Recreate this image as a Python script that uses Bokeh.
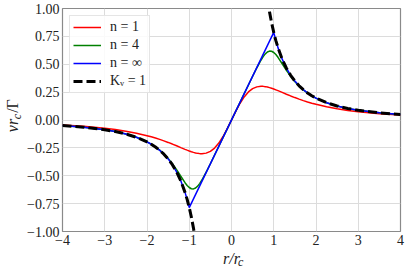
import math
from bokeh.plotting import figure
from bokeh.layouts import row, column
from bokeh.models import Range1d, FixedTicker, Legend, LegendItem
from bokeh.core.properties import value
from bokeh.embed import file_html
from bokeh.resources import INLINE

nan = float("nan")

# r / r_c sample positions for the n=1 and n=4 curves
r_vals = [-4.0, -3.5, -3.0, -2.75, -2.5, -2.25, -2.0, -1.9, -1.8, -1.7, -1.6, -1.5, -1.4,
          -1.3, -1.2, -1.1, -1.05, -1.0, -0.95, -0.9, -0.85, -0.8, -0.75, -0.7, -0.6, -0.5,
          -0.4, -0.3, -0.2, -0.1, 0.0, 0.1, 0.2, 0.3, 0.4, 0.5, 0.6, 0.7, 0.75, 0.8, 0.85,
          0.9, 0.95, 1.0, 1.05, 1.1, 1.2, 1.3, 1.4, 1.5, 1.6, 1.7, 1.8, 1.9, 2.0, 2.25, 2.5,
          2.75, 3.0, 3.5, 4.0]

# n = 1 (red)
v_n1 = [-0.0448, -0.0570, -0.0745, -0.0862, -0.1006, -0.1184, -0.1405, -0.1508, -0.1619,
        -0.1740, -0.1871, -0.2011, -0.2159, -0.2314, -0.2473, -0.2630, -0.2705, -0.2777,
        -0.2843, -0.2903, -0.2953, -0.2992, -0.3016, -0.3023, -0.2971, -0.2810, -0.2515,
        -0.2070, -0.1481, -0.0774, 0.0, 0.0774, 0.1481, 0.2070, 0.2515, 0.2810, 0.2971,
        0.3023, 0.3016, 0.2992, 0.2953, 0.2903, 0.2843, 0.2777, 0.2705, 0.2630, 0.2473,
        0.2314, 0.2159, 0.2011, 0.1871, 0.1740, 0.1619, 0.1508, 0.1405, 0.1184, 0.1006,
        0.0862, 0.0745, 0.0570, 0.0448]

# n = 4 (green)
v_n4 = [-0.0491, -0.0641, -0.0873, -0.1038, -0.1256, -0.1551, -0.1961, -0.2171, -0.2416,
        -0.2703, -0.3042, -0.3441, -0.3910, -0.4450, -0.5043, -0.5623, -0.5869, -0.6056,
        -0.6165, -0.6181, -0.6099, -0.5928, -0.5683, -0.5383, -0.4683, -0.3921, -0.3141,
        -0.2356, -0.1571, -0.0785, 0.0, 0.0785, 0.1571, 0.2356, 0.3141, 0.3921, 0.4683,
        0.5383, 0.5683, 0.5928, 0.6099, 0.6181, 0.6165, 0.6056, 0.5869, 0.5623, 0.5043,
        0.4450, 0.3910, 0.3441, 0.3042, 0.2703, 0.2416, 0.2171, 0.1961, 0.1551, 0.1256,
        0.1038, 0.0873, 0.0641, 0.0491]

# n = infinity (blue)
r_inf = [-4.0, -3.5, -3.0, -2.75, -2.5, -2.25, -2.0, -1.9, -1.8, -1.7, -1.6, -1.5, -1.4,
         -1.3, -1.2, -1.1, -1.05, -1.0, 1.0, 1.05, 1.1, 1.2, 1.3, 1.4, 1.5, 1.6, 1.7, 1.8,
         1.9, 2.0, 2.25, 2.5, 2.75, 3.0, 3.5, 4.0]
v_inf = [-0.0491, -0.0641, -0.0873, -0.1039, -0.1257, -0.1551, -0.1963, -0.2176, -0.2424,
         -0.2718, -0.3068, -0.3491, -0.4007, -0.4647, -0.5454, -0.6491, -0.7124, -0.7854,
         0.7854, 0.7124, 0.6491, 0.5454, 0.4647, 0.4007, 0.3491, 0.3068, 0.2718, 0.2424,
         0.2176, 0.1963, 0.1551, 0.1257, 0.1039, 0.0873, 0.0641, 0.0491]

# K_v = 1 (black dashed), two branches separated by a gap
r_kv = [-4.0, -3.5, -3.0, -2.75, -2.5, -2.25, -2.0, -1.9, -1.8, -1.7, -1.6, -1.5, -1.4,
        -1.3, -1.2, -1.1, -1.05, -1.0, -0.95, -0.9, -0.85, nan,
        0.85, 0.9, 0.95, 1.0, 1.05, 1.1, 1.2, 1.3, 1.4, 1.5, 1.6, 1.7, 1.8, 1.9, 2.0,
        2.25, 2.5, 2.75, 3.0, 3.5, 4.0]
v_kv = [-0.0491, -0.0641, -0.0873, -0.1039, -0.1257, -0.1551, -0.1963, -0.2176, -0.2424,
        -0.2718, -0.3068, -0.3491, -0.4007, -0.4647, -0.5454, -0.6491, -0.7124, -0.7854,
        -0.8703, -0.9696, -1.0871, nan,
        1.0871, 0.9696, 0.8703, 0.7854, 0.7124, 0.6491, 0.5454, 0.4647, 0.4007, 0.3491,
        0.3068, 0.2718, 0.2424, 0.2176, 0.1963, 0.1551, 0.1257, 0.1039, 0.0873, 0.0641,
        0.0491]

x_ticks = [-4, -3, -2, -1, 0, 1, 2, 3, 4]
x_tick_labels = ["\u22124", "\u22123", "\u22122", "\u22121", "0", "1", "2", "3", "4"]
y_ticks = [-1.0, -0.75, -0.5, -0.25, 0.0, 0.25, 0.5, 0.75, 1.0]
y_tick_labels = ["\u22121.00", "\u22120.75", "\u22120.50", "\u22120.25", "0.00",
                 "0.25", "0.50", "0.75", "1.00"]
legend_labels = ["n = 1", "n = 4", "n = \u221e", "K\u1d65 = 1"]

FONT = "'Liberation Serif', 'Times New Roman', serif"

W_YLAB = 24
W_MAIN = 383
H_MAIN = 250
H_XLAB = 21

# ---------------- main plot ----------------
p = figure(width=W_MAIN, height=H_MAIN, output_backend="svg", toolbar_location=None,
           x_range=Range1d(-4, 4), y_range=Range1d(-1, 1),
           min_border_left=37, min_border_right=7, min_border_top=8, min_border_bottom=19)
p.background_fill_color = "white"
p.border_fill_color = "white"
p.outline_line_color = "#8a8a8a"
p.outline_line_width = 1.2

for ax in (p.xaxis[0], p.yaxis[0]):
    ax.axis_line_color = None
    ax.major_tick_line_color = None
    ax.minor_tick_line_color = None
    ax.major_tick_in = 0
    ax.major_tick_out = 0
    ax.major_label_text_font = FONT
    ax.major_label_text_font_size = "14px"
    ax.major_label_text_color = "#222222"
    ax.major_label_standoff = 3

p.xaxis.ticker = FixedTicker(ticks=x_ticks)
p.yaxis.ticker = FixedTicker(ticks=y_ticks)
p.xaxis.major_label_overrides = {t: s for t, s in zip(x_ticks, x_tick_labels)}
p.yaxis.major_label_overrides = {t: s for t, s in zip(y_ticks, y_tick_labels)}

p.grid.grid_line_color = "#dcdcdc"
p.grid.grid_line_width = 1

r1 = p.line(r_vals, v_n1, line_color="#ff0000", line_width=1.5)
r4 = p.line(r_vals, v_n4, line_color="#008000", line_width=1.5)
ri = p.line(r_inf, v_inf, line_color="#0000ff", line_width=1.5)
rk = p.line(r_kv, v_kv, line_color="black", line_width=3, line_dash="9 4")

legend = Legend(items=[LegendItem(label=lab, renderers=[r])
                       for lab, r in zip(legend_labels, [r1, r4, ri, rk])],
                location="top_left", margin=7, padding=3, spacing=2,
                glyph_width=28, glyph_height=16, label_height=16, label_standoff=9,
                label_text_font=FONT, label_text_font_size="14px",
                label_text_color="#222222",
                border_line_color="#cccccc", border_line_width=1,
                background_fill_color="white", background_fill_alpha=0.85)
p.add_layout(legend)


def text_panel(width, height, x0):
    f = figure(width=width, height=height, output_backend="svg", toolbar_location=None,
               x_range=Range1d(x0, x0 + width), y_range=Range1d(0, height),
               x_axis_location=None, y_axis_location=None,
               min_border=0, min_border_left=0, min_border_right=0,
               min_border_top=0, min_border_bottom=0)
    f.grid.visible = False
    f.outline_line_color = None
    f.background_fill_color = "white"
    f.border_fill_color = "white"
    return f


# ---------------- y axis title: v r_c / Gamma (rotated) ----------------
yl = text_panel(W_YLAB, H_MAIN + H_XLAB, 0)
# coordinates: x = page px, y = px from the bottom of the page
yl.text(x=[12], y=[146], text=["vr"], angle=math.pi / 2, text_font=value(FONT),
        text_font_style="italic", text_font_size="16px", text_align="center",
        text_baseline="middle", text_color="#222222")
yl.text(x=[16], y=[155], text=["c"], angle=math.pi / 2, text_font=value(FONT),
        text_font_style="italic", text_font_size="12px", text_align="center",
        text_baseline="middle", text_color="#222222")
yl.text(x=[12], y=[165.5], text=["/\u0393"], angle=math.pi / 2, text_font=value(FONT),
        text_font_size="16px", text_align="center",
        text_baseline="middle", text_color="#222222")

# ---------------- x axis title: r / r_c ----------------
xl = text_panel(W_MAIN, H_XLAB, W_YLAB)
xl.text(x=[206], y=[13], text=["r/r"], text_font=value(FONT),
        text_font_style="italic", text_font_size="16px", text_align="left",
        text_baseline="alphabetic", text_color="#222222")
xl.text(x=[223], y=[10], text=["c"], text_font=value(FONT),
        text_font_style="italic", text_font_size="12px", text_align="left",
        text_baseline="alphabetic", text_color="#222222")

layout = row(yl, column(p, xl, spacing=0), spacing=0)

open("out.html", "w").write(file_html(layout, INLINE))
